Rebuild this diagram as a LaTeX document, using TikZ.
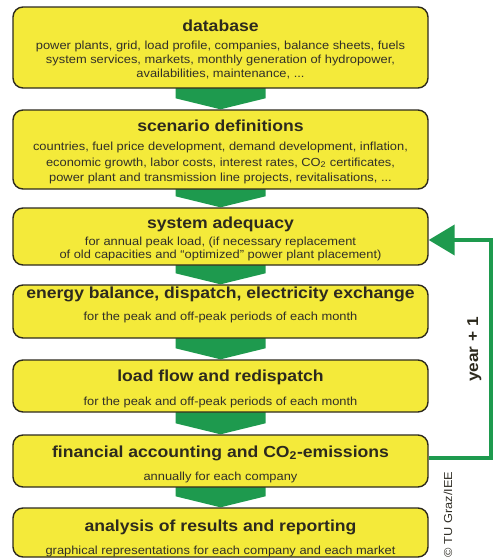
\documentclass[tikz,border=0pt]{standalone}
\usepackage{fontspec}
\setmainfont{Liberation Sans}[FakeStretch=1.1]
\usetikzlibrary{arrows.meta}
\definecolor{boxyellow}{RGB}{244,234,58}
\definecolor{flowgreen}{RGB}{30,154,78}
\definecolor{boxedge}{RGB}{45,42,30}
\definecolor{bodytext}{RGB}{50,48,40}
\pgfdeclarelayer{background}
\pgfsetlayers{background,main}

\begin{document}
\begin{tikzpicture}[x=1pt,y=-1pt,
  stage/.style={draw=boxedge, line width=1.4pt, fill=boxyellow,
    rounded corners=10pt, minimum width=415pt, inner sep=0pt},
  headline/.style={font=\bfseries\fontsize{16}{18}\selectfont,
    text=boxedge, anchor=base, inner sep=0pt},
  detail/.style={font=\fontsize{11.7}{14}\selectfont,
    text=bodytext, anchor=base, inner sep=0pt},
  flow/.style={fill=flowgreen},
  feedback/.style={draw=flowgreen, line width=4pt,
    -{Triangle[length=26pt,width=30pt]}},
  sidenote/.style={anchor=base, inner sep=0pt, rotate=90}
]
\useasboundingbox (0,0) rectangle (493,560);

% process stages
\node[stage, minimum height=81pt] (db) at (220.5,47.5) {};
\node[stage, minimum height=79pt] (sc) at (220.5,149.5) {};
\node[stage, minimum height=57pt] (ad) at (220.5,236.5) {};
\node[stage, minimum height=53pt] (eb) at (220.5,311.5) {};
\node[stage, minimum height=52pt] (lf) at (220.5,386) {};
\node[stage, minimum height=52pt] (fa) at (220.5,461) {};
\node[stage, minimum height=49pt] (an) at (220.5,532.5) {};

% stage texts
\node[headline] (dbh) at (220.5,31) {database};
\node[detail] (db1) at (220.5,49.5) {power plants, grid, load profile, companies, balance sheets, fuels};
\node[detail] (db2) at (220.5,63.5) {system services, markets, monthly generation of hydropower,};
\node[detail] (db3) at (220.5,77.5) {availabilities, maintenance, ...};

\node[headline] (sch) at (220.5,131.5) {scenario definitions};
\node[detail] (sc1) at (220.5,150.7) {countries, fuel price development, demand development, inflation,};
\node[detail] (sc2) at (220.5,166) {economic growth, labor costs, interest rates, CO\textsubscript{2} certificates,};
\node[detail] (sc3) at (220.5,181.7) {power plant and transmission line projects, revitalisations, ...};

\node[headline] (adh) at (220.5,228.3) {system adequacy};
\node[detail] (ad1) at (220.5,245) {for annual peak load, (if necessary replacement};
\node[detail] (ad2) at (220.5,258.3) {of old capacities and ``optimized'' power plant placement)};

\node[headline] (ebh) at (220.5,298.3) {energy balance, dispatch, electricity exchange};
\node[detail] (eb1) at (220.5,320) {for the peak and off-peak periods of each month};

\node[headline] (lfh) at (220.5,381.7) {load flow and redispatch};
\node[detail] (lf1) at (220.5,405) {for the peak and off-peak periods of each month};

\node[headline] (fah) at (220.5,457.3) {financial accounting and CO\textsubscript{2}-emissions};
\node[detail] (fa1) at (220.5,480) {annually for each company};

\node[headline] (anh) at (220.5,531.7) {analysis of results and reporting};
\node[detail] (an1) at (220.5,554) {graphical representations for each company and each market};

% green flow arrows between consecutive stages
\begin{pgfonlayer}{background}
\foreach \a/\b in {db/sc, sc/ad, ad/eb, eb/lf, lf/fa, fa/an}{
  \fill[flow] ([xshift=-45pt,yshift=5pt]\a.south)
    -- ([xshift=-45pt,yshift=11pt]\b.north)
    -- (\b.north)
    -- ([xshift=45pt,yshift=11pt]\b.north)
    -- ([xshift=45pt,yshift=5pt]\a.south) -- cycle;
}
\end{pgfonlayer}

% yearly loop back to system adequacy
\draw[feedback] ([yshift=3pt]fa.east) -- ++(62,0) coordinate (loopcorner)
  |- ([yshift=-3.5pt]ad.east);
\node[sidenote, font=\bfseries\fontsize{15.7}{18}\selectfont, text=boxedge]
  (yr) at (478,349.5) {year + 1};

\node[sidenote, font=\fontsize{11.6}{14}\selectfont, text=bodytext]
  (copy) at (452,514.5) {© TU Graz/IEE};
\end{tikzpicture}
\end{document}
